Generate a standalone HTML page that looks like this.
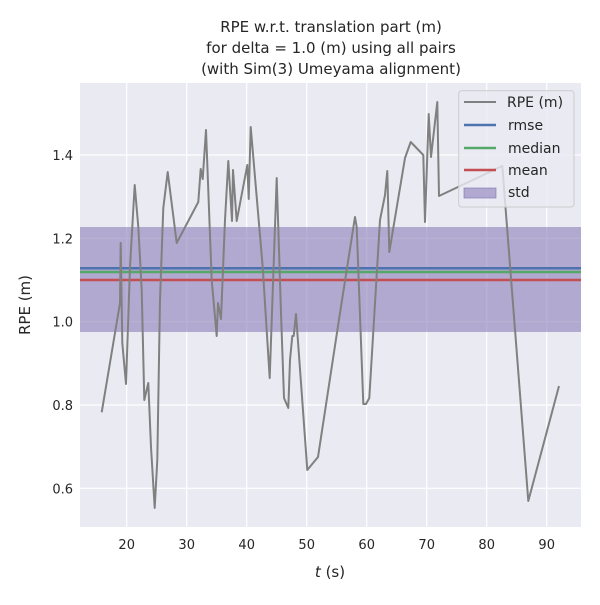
<!DOCTYPE html>
<html><head><meta charset="utf-8"><style>
html,body{margin:0;padding:0;background:#fff;}
svg text{font-family:"DejaVu Sans","Liberation Sans",sans-serif;fill:#262626;}
</style></head><body>
<svg width="600" height="600" viewBox="0 0 600 600" xmlns="http://www.w3.org/2000/svg">
<rect width="600" height="600" fill="#fff"/>
<text x="331" y="32" font-size="15" text-anchor="middle">RPE w.r.t. translation part (m)</text>
<text x="331" y="53" font-size="15" text-anchor="middle">for delta = 1.0 (m) using all pairs</text>
<text x="331" y="74" font-size="15" text-anchor="middle">(with Sim(3) Umeyama alignment)</text>
<rect x="80" y="83" width="501" height="444" fill="#eaeaf2"/>
<g stroke="#fff" stroke-width="1.2">
<line x1="126.7" y1="83" x2="126.7" y2="527"/><line x1="186.7" y1="83" x2="186.7" y2="527"/>
<line x1="246.7" y1="83" x2="246.7" y2="527"/><line x1="306.7" y1="83" x2="306.7" y2="527"/>
<line x1="366.7" y1="83" x2="366.7" y2="527"/><line x1="426.7" y1="83" x2="426.7" y2="527"/>
<line x1="486.7" y1="83" x2="486.7" y2="527"/><line x1="546.7" y1="83" x2="546.7" y2="527"/>
<line x1="80" y1="155" x2="581" y2="155"/><line x1="80" y1="238.3" x2="581" y2="238.3"/>
<line x1="80" y1="321.7" x2="581" y2="321.7"/><line x1="80" y1="405" x2="581" y2="405"/>
<line x1="80" y1="488.3" x2="581" y2="488.3"/>
</g>
<rect x="80" y="227" width="501" height="105" fill="#8172b3" fill-opacity="0.55"/>
<line x1="80" y1="268.3" x2="581" y2="268.3" stroke="#4c72b0" stroke-width="2.5"/>
<line x1="80" y1="272" x2="581" y2="272" stroke="#55a868" stroke-width="2.5"/>
<line x1="80" y1="280" x2="581" y2="280" stroke="#c44e52" stroke-width="2.5"/>
<polyline fill="none" stroke="#808080" stroke-width="2" stroke-linejoin="round" points="101.7,412.3 120,303 120.7,243 122.3,343 126,384 130,267 134.7,185 138.3,227 141.7,290 144.3,400 148.3,383 151,447 154.7,508 157.3,460 160,300 163.3,208 167.7,172 176.7,243 198.3,202 200.7,169 202.7,179 206,130 211.7,280 216.7,336 218,303 221,319 225,220 228.3,161 232,221 233,170 236.7,221 247.3,165 248.7,199 250.7,127 256.7,197 262.7,267 269.7,378 276.7,178 281,313 284,398 288.3,408 290,360 292.3,336 293.7,336 296,314 307.3,470 318,457 340,313 355,217 356.7,227 363.3,404 366,404 369.3,398 380,220 385,195 387.3,171 389.3,252 405,158 410.7,142 423.3,155 425,222 428.7,114 431,157 437.3,102 439,196 502.3,166 528.3,501 559,386"/>
<g font-size="13" text-anchor="middle">
<text x="126.7" y="549">20</text><text x="186.7" y="549">30</text><text x="246.7" y="549">40</text>
<text x="306.7" y="549">50</text><text x="366.7" y="549">60</text><text x="426.7" y="549">70</text>
<text x="486.7" y="549">80</text><text x="546.7" y="549">90</text>
</g>
<g font-size="13" text-anchor="end">
<text x="73" y="160">1.4</text><text x="73" y="243.3">1.2</text><text x="73" y="326.7">1.0</text>
<text x="73" y="410">0.8</text><text x="73" y="493.3">0.6</text>
</g>
<text x="330" y="577" font-size="15" text-anchor="middle"><tspan font-style="italic">t</tspan> (s)</text>
<text transform="translate(30,305) rotate(-90)" font-size="15" text-anchor="middle">RPE (m)</text>
<rect x="458.7" y="90.7" width="115.3" height="116.3" rx="3" fill="#eaeaf2" fill-opacity="0.8" stroke="#ccc" stroke-width="1"/>
<line x1="464" y1="102" x2="496" y2="102" stroke="#808080" stroke-width="2"/>
<line x1="464" y1="125" x2="496" y2="125" stroke="#4c72b0" stroke-width="2.5"/>
<line x1="464" y1="148" x2="496" y2="148" stroke="#55a868" stroke-width="2.5"/>
<line x1="464" y1="170" x2="496" y2="170" stroke="#c44e52" stroke-width="2.5"/>
<rect x="464" y="188" width="32" height="10" fill="#8172b3" fill-opacity="0.55" stroke="#8172b3" stroke-opacity="0.6"/>
<g font-size="14">
<text x="507" y="107">RPE (m)</text><text x="508" y="130">rmse</text><text x="508" y="153">median</text>
<text x="508" y="175">mean</text><text x="508" y="197">std</text>
</g>
</svg>
</body></html>
